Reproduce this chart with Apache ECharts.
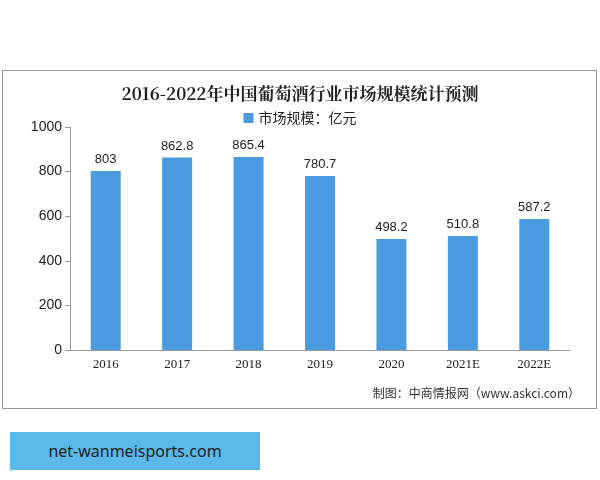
<!DOCTYPE html><html><head><meta charset="utf-8"><script src="https://cdn.jsdelivr.net/npm/echarts@6/dist/echarts.min.js"></script>
<style>body{margin:0;background:#fff}#frame{position:absolute;left:2px;top:70px;width:595px;height:339px;border:1px solid #999;box-sizing:border-box}#c{position:absolute;left:0;top:0;width:600px;height:480px}#tag{position:absolute;left:10px;top:432px;width:250px;height:38px;background:#5bb8e8;color:#222;font:16px "Noto Sans",sans-serif;line-height:38px;text-align:center}</style></head><body>
<div id="frame"></div><div id="c"></div><div id="tag">net-wanmeisports.com</div>
<script>
const categories=['2016','2017','2018','2019','2020','2021E','2022E'];
const values=[803,862.8,865.4,780.7,498.2,510.8,587.2];
const yTicks=[0,200,400,600,800,1000];
const ch=echarts.init(document.getElementById('c'));
ch.setOption({
 title:{text:'2016-2022年中国葡萄酒行业市场规模统计预测',left:'center',top:80,textStyle:{fontFamily:'Noto Serif CJK SC, Noto Sans CJK SC',fontSize:17,fontWeight:'bold',color:'#222'}},
 legend:{top:106,left:'center',icon:'rect',itemWidth:10,itemHeight:10,textStyle:{fontSize:14,color:'#222',fontFamily:'Noto Sans CJK SC'},data:['市场规模：亿元']},
 graphic:[{type:'text',right:20,top:387,style:{text:'制图：中商情报网（www.askci.com）',fontSize:12,fill:'#333',fontFamily:'Noto Sans CJK SC'}}],
 grid:{left:70,right:30,top:127,bottom:130},
 xAxis:{type:'category',data:categories,axisTick:{show:false},axisLine:{lineStyle:{color:'#999'}},axisLabel:{color:'#222',fontSize:13,fontFamily:'Liberation Serif'}},
 yAxis:{type:'value',min:yTicks[0],max:yTicks[yTicks.length-1],interval:200,splitLine:{show:false},axisLine:{show:true,lineStyle:{color:'#999'}},axisTick:{show:true},axisLabel:{color:'#222',fontSize:14,fontFamily:'Liberation Sans',formatter:v=>String(v)}},
 series:[{name:'市场规模：亿元',type:'bar',data:values,barWidth:30,itemStyle:{color:'#4b9be0'},label:{show:true,position:'top',color:'#222',fontSize:13,fontFamily:'Liberation Sans'}}]
});
</script></body></html>
